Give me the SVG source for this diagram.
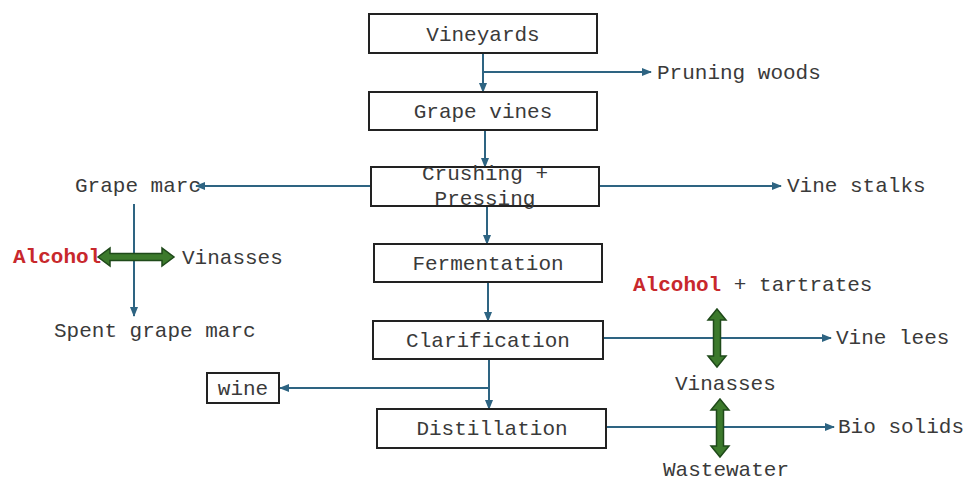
<svg xmlns="http://www.w3.org/2000/svg" width="968" height="481" viewBox="0 0 968 481">
<defs>
<style>
.box{fill:#fff;stroke:#222;stroke-width:2}
.t{font-family:"Liberation Mono","Courier New",monospace;font-size:21px;fill:#3a3a3a}
.c{text-anchor:middle}
.r{fill:#c8282c;font-weight:bold}
.ln{stroke:#2e6482;stroke-width:2;fill:none}
.ar{marker-end:url(#ah)}
.g{fill:#3c7a2c;stroke:#1f4a1a;stroke-width:1.5}
</style>
<marker id="ah" markerUnits="userSpaceOnUse" markerWidth="10" markerHeight="10" viewBox="0 0 10 10" refX="9" refY="5" orient="auto">
<path d="M0,1 L10,5 L0,9 z" fill="#2e6482"/>
</marker>
</defs>
<rect width="968" height="481" fill="#fff"/>
<g id="connectors">
<path class="ln ar" d="M483,53 V92"/>
<path class="ln ar" d="M483,72 H651"/>
<path class="ln ar" d="M485,130 V167"/>
<path class="ln ar" d="M371,186 H196"/>
<path class="ln ar" d="M599,186 H781"/>
<path class="ln ar" d="M487,206 V244"/>
<path class="ln ar" d="M488,282 V321"/>
<path class="ln ar" d="M489,359 V409"/>
<path class="ln ar" d="M489,388 H280"/>
<path class="ln ar" d="M603,338 H831"/>
<path class="ln ar" d="M606,427 H834"/>
<path class="ln ar" d="M134,204 V316"/>
</g>
<g id="vineyards"><rect class="box" x="369" y="14" width="228" height="39"/><text class="t c" x="483" y="41">Vineyards</text></g>
<g id="grape-vines"><rect class="box" x="369" y="92" width="228" height="38"/><text class="t c" x="483" y="118">Grape vines</text></g>
<g id="crushing"><rect class="box" x="371" y="167" width="228" height="39"/><text class="t c" x="485" y="180">Crushing +</text><text class="t c" x="485" y="205">Pressing</text></g>
<g id="fermentation"><rect class="box" x="374" y="244" width="228" height="38"/><text class="t c" x="488" y="270">Fermentation</text></g>
<g id="clarification"><rect class="box" x="373" y="321" width="230" height="38"/><text class="t c" x="488" y="347">Clarification</text></g>
<g id="distillation"><rect class="box" x="377" y="409" width="229" height="39"/><text class="t c" x="492" y="435">Distillation</text></g>
<g id="wine"><rect class="box" x="207" y="373" width="72" height="30"/><text class="t c" x="243" y="395">wine</text></g>
<g id="pruning-woods"><text class="t" x="657" y="79">Pruning woods</text></g>
<g id="vine-stalks"><text class="t" x="787" y="192">Vine stalks</text></g>
<g id="grape-marc"><text class="t" x="75" y="192">Grape marc</text></g>
<g id="spent-grape-marc"><text class="t" x="54" y="337">Spent grape marc</text></g>
<g id="alcohol-left"><text class="t r" x="13" y="263">Alcohol</text></g>
<g id="vinasses-left"><text class="t" x="182" y="264">Vinasses</text></g>
<g id="green-arrow-left"><path class="g" d="M98,257 L110,248 L110,253.5 L162,253.5 L162,248 L174,257 L162,266 L162,260.5 L110,260.5 L110,266 Z"/></g>
<g id="alcohol-tartrates"><text class="t" x="633" y="291"><tspan class="r">Alcohol</tspan> + tartrates</text></g>
<g id="vine-lees"><text class="t" x="836" y="344">Vine lees</text></g>
<g id="green-arrow-clar"><path class="g" d="M717,309 L726,320 L720.5,320 L720.5,356 L726,356 L717,367 L708,356 L713.5,356 L713.5,320 L708,320 Z"/></g>
<g id="vinasses-right"><text class="t" x="675" y="390">Vinasses</text></g>
<g id="green-arrow-dist"><path class="g" d="M720,399 L729,410 L723.5,410 L723.5,446 L729,446 L720,457 L711,446 L716.5,446 L716.5,410 L711,410 Z"/></g>
<g id="bio-solids"><text class="t" x="838" y="433">Bio solids</text></g>
<g id="wastewater"><text class="t" x="663" y="476">Wastewater</text></g>
</svg>
